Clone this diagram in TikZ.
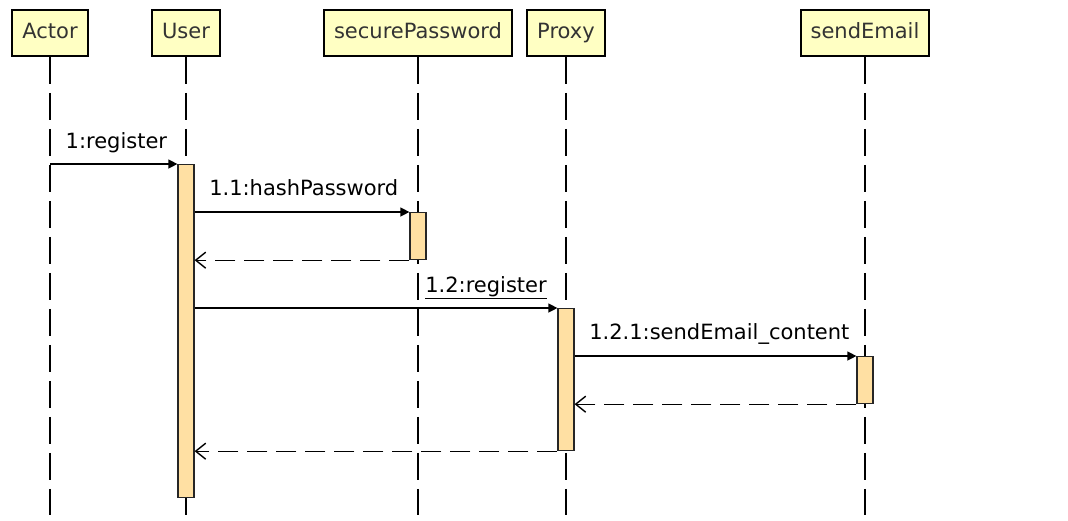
\documentclass[tikz,border=0pt]{standalone}
\usepackage{fontspec}
\setmainfont{DejaVu Sans}
\usetikzlibrary{arrows.meta}
\definecolor{headfill}{HTML}{FFFFC3}
\definecolor{actfill}{HTML}{FFE0A3}
\definecolor{headtext}{HTML}{333333}
\tikzset{
  head/.style={draw=black, line width=1.8pt, fill=headfill, text=headtext,
    inner xsep=10pt, inner ysep=0pt, text height=15pt, text depth=4pt,
    minimum height=46pt, font=\fontsize{21}{23}\selectfont},
  life/.style={line width=1.5pt, dash pattern=on 27pt off 9pt},
  actbar/.style={draw=black!85, line width=1.2pt, fill=actfill, minimum width=16pt,
    inner sep=0pt, anchor=north},
  call/.style={line width=1.3pt, -{Triangle[length=9pt,width=9pt]}},
  reply/.style={line width=1.3pt, dash pattern=on 20pt off 9pt,
    -{Straight Barb[length=10pt,width=16pt,line width=1.4pt]}},
  lbl/.style={font=\fontsize{21}{23}\selectfont, inner sep=0pt}
}
\begin{document}
\begin{tikzpicture}[x=1pt,y=-1pt]
  \useasboundingbox (0,0) rectangle (1068,520);
  % lifeline heads
  \node[head] (hActor) at (50,33) {Actor};
  \node[head] (hUser) at (186,33) {User};
  \node[head] (hPass) at (418,33) {securePassword};
  \node[head] (hProxy) at (566,33) {Proxy};
  \node[head] (hMail) at (865,33) {sendEmail};
  \coordinate (bot) at (0,515);
  \foreach \h in {hActor,hUser,hPass,hProxy,hMail}
    \draw[life] (\h.south) -- (\h.south |- bot);
  % activations
  \node[actbar, minimum height=333pt] (aUser) at (hUser.south |- 0,164) {};
  \node[actbar, minimum height=47pt] (aPass) at (hPass.south |- 0,212) {};
  \node[actbar, minimum height=142pt] (aProxy) at (hProxy.south |- 0,308) {};
  \node[actbar, minimum height=47pt] (aMail) at (hMail.south |- 0,356) {};
  % messages
  \draw[call] (aUser.north west -| hActor.south) -- (aUser.north west)
    node[lbl, pos=0, anchor=base west, xshift=15pt, yshift=16pt] {1:register};
  \draw[call] (aPass.north west -| aUser.east) -- (aPass.north west)
    node[lbl, pos=0, anchor=base west, xshift=14pt, yshift=17pt] {1.1:hashPassword};
  \draw[reply] (aPass.south west) -- (aPass.south west -| aUser.east);
  \draw[call] (aProxy.north west -| aUser.east) -- (aProxy.north west)
    node[lbl, pos=1, anchor=base east, xshift=-10pt, yshift=16pt] {\underline{1.2:register}};
  \draw[call] (aMail.north west -| aProxy.east) -- (aMail.north west)
    node[lbl, pos=0, anchor=base west, xshift=14pt, yshift=17pt] {1.2.1:sendEmail\_content};
  \draw[reply] (aMail.south west) -- (aMail.south west -| aProxy.east);
  \draw[reply] (aProxy.south west) -- (aProxy.south west -| aUser.east);
\end{tikzpicture}
\end{document}
